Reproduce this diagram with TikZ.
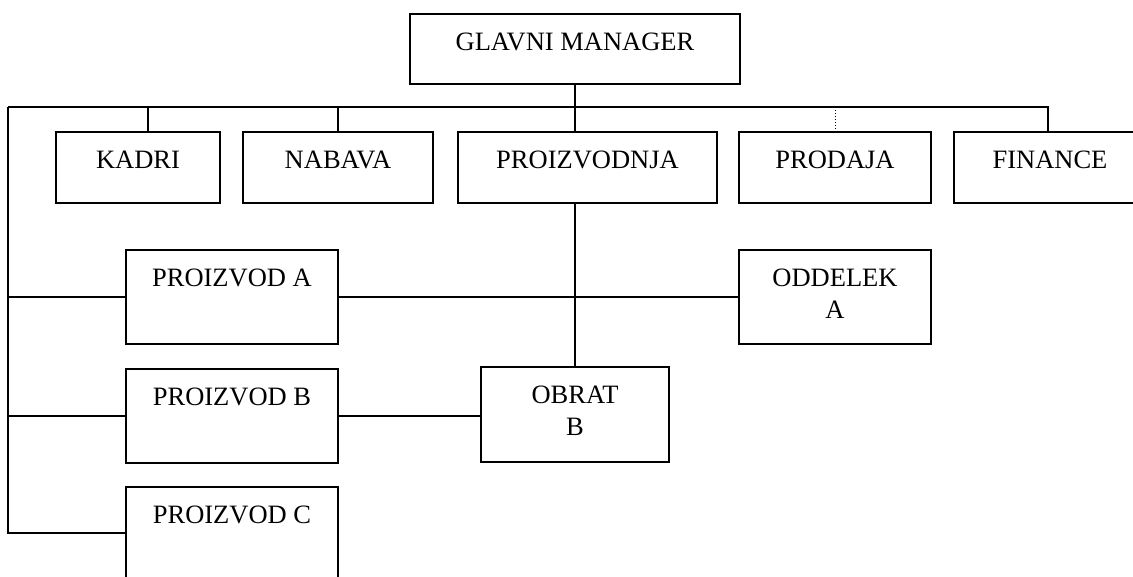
\documentclass[tikz,border=0pt]{standalone}
\usepackage{fontspec}
\setmainfont{Liberation Serif}
\begin{document}
\begin{tikzpicture}[x=1pt,y=-1pt,
  orgbox/.style={draw, line width=2pt, inner sep=0pt, anchor=north west,
    align=center, text height=36pt, font=\fontsize{26.5}{32}\selectfont},
  twoline/.style={text height=68pt},
  link/.style={line width=2pt},
  dotlink/.style={line width=1pt, dotted}]
  \path[use as bounding box, clip] (0,0) rectangle (1133,576);
  \fill[white] (0,0) rectangle (1133,576);

  % top manager
  \node[orgbox, minimum width=330pt, text depth=34pt] (gm) at (409,13) {GLAVNI MANAGER};

  % departments
  \node[orgbox, minimum width=164pt, text depth=35pt] (kadri)   at (55,131)  {KADRI};
  \node[orgbox, minimum width=190pt, text depth=35pt] (nabava)  at (242,131) {NABAVA};
  \node[orgbox, minimum width=259pt, text depth=35pt] (proizv)  at (457,131) {PROIZVODNJA};
  \node[orgbox, minimum width=192pt, text depth=35pt] (prodaja) at (738,131) {PRODAJA};
  \node[orgbox, minimum width=192pt, text depth=35pt] (finance) at (953,131) {FINANCE};

  % products
  \node[orgbox, minimum width=212pt, text depth=58pt] (pa) at (125,249) {PROIZVOD A};
  \node[orgbox, minimum width=212pt, text depth=58pt] (pb) at (125,368) {PROIZVOD B};
  \node[orgbox, minimum width=212pt, text depth=56pt] (pc) at (125,486) {PROIZVOD C};

  % units
  \node[orgbox, twoline, minimum width=192pt, text depth=26pt] (oddelek) at (738,249) {ODDELEK\\A};
  \node[orgbox, twoline, minimum width=188pt, text depth=27pt] (obrat)   at (480,366) {OBRAT\\B};

  % bus line under the manager
  \coordinate (busL) at (8,107);
  \coordinate (busR) at (1048,107);
  \coordinate (kx) at (148,107);
  \draw[link] (busL) -- (busR) -- (busR |- finance.north);
  \draw[link] (gm.south) -- (gm.south |- proizv.north);
  \draw[link] (kx) -- (kx |- kadri.north);
  \draw[link] (nabava.north |- busL) -- (nabava.north);
  \draw[dotlink] (prodaja.north |- busL) -- (prodaja.north);

  % left spine to the products
  \draw[link] (busL) -- (busL |- pc.west) -- (pc.west);
  \draw[link] (busL |- pa.west) -- (pa.west);
  \draw[link] (busL |- pb.west) -- (pb.west);

  % production branches
  \draw[link] (obrat.north |- proizv.south) -- (obrat.north);
  \draw[link] (pa.east) -- (oddelek.west);
  \draw[link] (pb.east) -- (pb.east -| obrat.west);
\end{tikzpicture}
\end{document}
